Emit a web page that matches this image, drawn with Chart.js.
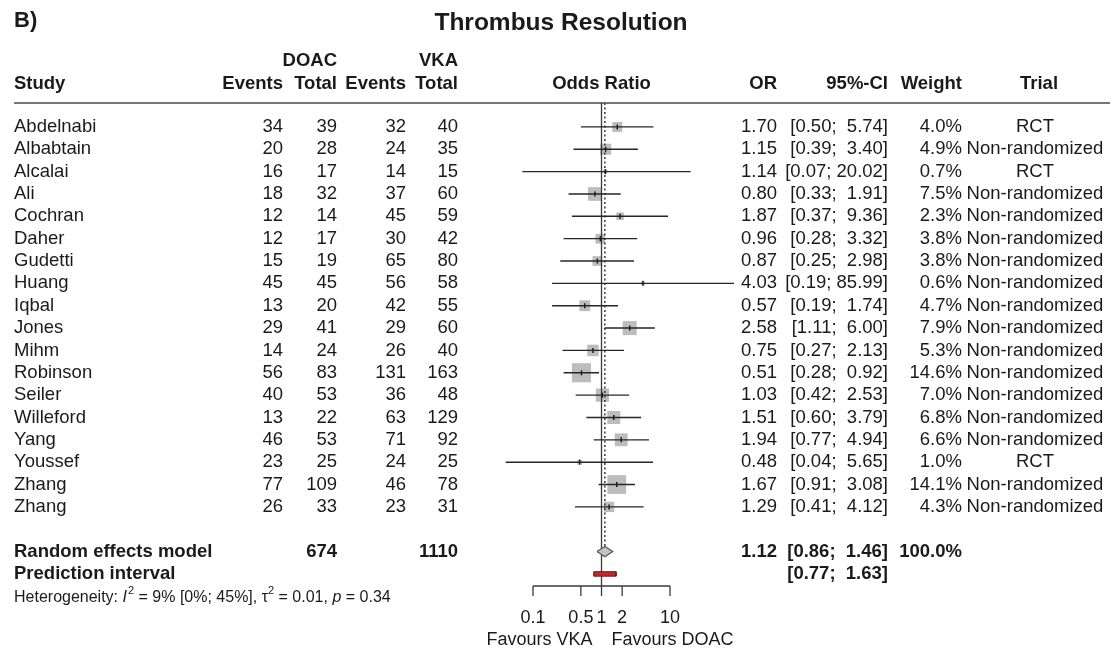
<!DOCTYPE html>
<html>
<head>
<meta charset="utf-8">
<script src="https://cdn.jsdelivr.net/npm/chart.js@4.4.1/dist/chart.umd.min.js"></script>
<style>
html,body{margin:0;padding:0;background:#fff;}
canvas{display:block;}
</style>
</head>
<body>
<canvas id="c" width="1115" height="653"></canvas>
<script>
// ---------- data ----------
const studies = ["Abdelnabi","Albabtain","Alcalai","Ali","Cochran","Daher","Gudetti","Huang","Iqbal","Jones","Mihm","Robinson","Seiler","Willeford","Yang","Youssef","Zhang","Zhang"];
const doacEvents = [34,20,16,18,12,12,15,45,13,29,14,56,40,13,46,23,77,26];
const doacTotal  = [39,28,17,32,14,17,19,45,20,41,24,83,53,22,53,25,109,33];
const vkaEvents  = [32,24,14,37,45,30,65,56,42,29,26,131,36,63,71,24,46,23];
const vkaTotal   = [40,35,15,60,59,42,80,58,55,60,40,163,48,129,92,25,78,31];
const orValues   = [1.70,1.15,1.14,0.80,1.87,0.96,0.87,4.03,0.57,2.58,0.75,0.51,1.03,1.51,1.94,0.48,1.67,1.29];
const ciLower    = [0.50,0.39,0.07,0.33,0.37,0.28,0.25,0.19,0.19,1.11,0.27,0.28,0.42,0.60,0.77,0.04,0.91,0.41];
const ciUpper    = [5.74,3.40,20.02,1.91,9.36,3.32,2.98,85.99,1.74,6.00,2.13,0.92,2.53,3.79,4.94,5.65,3.08,4.12];
const weights    = [4.0,4.9,0.7,7.5,2.3,3.8,3.8,0.6,4.7,7.9,5.3,14.6,7.0,6.8,6.6,1.0,14.1,4.3];
const trials     = ["RCT","Non-randomized","RCT","Non-randomized","Non-randomized","Non-randomized","Non-randomized","Non-randomized","Non-randomized","Non-randomized","Non-randomized","Non-randomized","Non-randomized","Non-randomized","Non-randomized","RCT","Non-randomized","Non-randomized"];
const pooled     = {or:1.12, lo:0.86, hi:1.46, weight:"100.0%", doacN:674, vkaN:1110};
const predInt    = {lo:0.77, hi:1.63};
const tickValues = [0.1,0.5,1,2,10];
const tickLabels = ["0.1","0.5","1","2","10"];

// ---------- layout ----------
const FONT = "'Liberation Sans', Arial, Helvetica, sans-serif";
const ROW_POOL = 19, ROW_PI = 20, ROW_HET = 21.05;
const Y_TOP = -1.07, Y_AXIS = 20.54;

const datasets = [];
// CI lines
studies.forEach((s,i)=>{
  datasets.push({data:[{x:ciLower[i],y:i},{x:ciUpper[i],y:i}],showLine:true,borderColor:'#262626',borderWidth:1.4,pointRadius:0,clip:false,order:0});
});
// centre marks
datasets.push({data:orValues.map((v,i)=>({x:v,y:i})),pointStyle:'line',rotation:90,pointRadius:2.5,borderColor:'#111',borderWidth:1.4,backgroundColor:'#111',clip:false,order:0});
// squares
datasets.push({data:orValues.map((v,i)=>({x:v,y:i})),pointStyle:'rect',pointRadius:weights.map(w=>5*Math.sqrt(w)/Math.SQRT2),backgroundColor:'#bdbdbd',borderColor:'#bdbdbd',borderWidth:0,clip:false,order:3});
// reference line at 1
datasets.push({data:[{x:1,y:Y_TOP},{x:1,y:Y_AXIS}],showLine:true,borderColor:'#3a3a3a',borderWidth:1.3,pointRadius:0,clip:false,order:1});
// pooled estimate dotted line
datasets.push({data:[{x:pooled.or,y:Y_TOP},{x:pooled.or,y:ROW_POOL-0.22}],showLine:true,borderColor:'#2b2b2b',borderWidth:1.4,borderDash:[2,2.5],pointRadius:0,clip:false,order:1});
// diamond
datasets.push({data:[{x:pooled.lo,y:ROW_POOL},{x:pooled.or,y:ROW_POOL-0.23},{x:pooled.hi,y:ROW_POOL},{x:pooled.or,y:ROW_POOL+0.23},{x:pooled.lo,y:ROW_POOL}],showLine:true,fill:'shape',backgroundColor:'#c4c4c4',borderColor:'#555',borderWidth:1.2,pointRadius:0,clip:false,order:0});
// prediction interval bar
datasets.push({data:[{x:predInt.lo,y:ROW_PI-0.1},{x:predInt.hi,y:ROW_PI-0.1},{x:predInt.hi,y:ROW_PI+0.1},{x:predInt.lo,y:ROW_PI+0.1},{x:predInt.lo,y:ROW_PI-0.1}],showLine:true,fill:'shape',backgroundColor:'#c8262c',borderColor:'#5a2020',borderWidth:1,pointRadius:0,clip:false,order:0});

function txt(ctx,s,x,y,align,opt){
  opt=opt||{};
  const size=opt.size||18.5;
  ctx.font=(opt.italic?'italic ':'')+(opt.bold?'bold ':'')+size+'px '+FONT;
  ctx.fillStyle=opt.color||'#1a1a1a';
  ctx.textAlign=align||'left';
  ctx.textBaseline='middle';
  ctx.fillText(s,x,y);
  return ctx.measureText(s).width;
}

const tablePlugin = {
  id:'table',
  afterDraw(chart){
    const ctx=chart.ctx, xs=chart.scales.x, ys=chart.scales.y;
    ctx.save();
    // title
    txt(ctx,'B)',14,21,'left',{bold:true,size:22});
    txt(ctx,'Thrombus Resolution',561,23,'center',{bold:true,size:24.5});
    // headers
    const hy1=61, hy2=84;
    txt(ctx,'DOAC',337,hy1,'right',{bold:true});
    txt(ctx,'VKA',458,hy1,'right',{bold:true});
    txt(ctx,'Study',14,hy2,'left',{bold:true});
    txt(ctx,'Events',283,hy2,'right',{bold:true});
    txt(ctx,'Total',337,hy2,'right',{bold:true});
    txt(ctx,'Events',406,hy2,'right',{bold:true});
    txt(ctx,'Total',458,hy2,'right',{bold:true});
    txt(ctx,'Odds Ratio',xs.getPixelForValue(1),hy2,'center',{bold:true});
    txt(ctx,'OR',777,hy2,'right',{bold:true});
    txt(ctx,'95%-CI',888,hy2,'right',{bold:true});
    txt(ctx,'Weight',962,hy2,'right',{bold:true});
    txt(ctx,'Trial',1039,hy2,'center',{bold:true});
    // header rule
    const ly=ys.getPixelForValue(Y_TOP);
    ctx.strokeStyle='#4a4a4a';ctx.lineWidth=1.7;
    ctx.beginPath();ctx.moveTo(14,ly);ctx.lineTo(1110,ly);ctx.stroke();
    // rows
    const fmt=v=>v.toFixed(2);
    studies.forEach((s,i)=>{
      const y=ys.getPixelForValue(i);
      txt(ctx,s,14,y,'left');
      txt(ctx,String(doacEvents[i]),283,y,'right');
      txt(ctx,String(doacTotal[i]),337,y,'right');
      txt(ctx,String(vkaEvents[i]),406,y,'right');
      txt(ctx,String(vkaTotal[i]),458,y,'right');
      txt(ctx,fmt(orValues[i]),777,y,'right');
      const up=fmt(ciUpper[i]);
      txt(ctx,'['+fmt(ciLower[i])+';'+(up.length<5?'  ':' ')+up+']',888,y,'right');
      txt(ctx,weights[i].toFixed(1)+'%',962,y,'right');
      txt(ctx,trials[i],1035,y,'center');
    });
    // pooled
    const py=ys.getPixelForValue(ROW_POOL);
    txt(ctx,'Random effects model',14,py,'left',{bold:true});
    txt(ctx,String(pooled.doacN),337,py,'right',{bold:true});
    txt(ctx,String(pooled.vkaN),458,py,'right',{bold:true});
    txt(ctx,fmt(pooled.or),777,py,'right',{bold:true});
    txt(ctx,'['+fmt(pooled.lo)+';  '+fmt(pooled.hi)+']',888,py,'right',{bold:true});
    txt(ctx,pooled.weight,962,py,'right',{bold:true});
    const piy=ys.getPixelForValue(ROW_PI);
    txt(ctx,'Prediction interval',14,piy,'left',{bold:true});
    txt(ctx,'['+fmt(predInt.lo)+';  '+fmt(predInt.hi)+']',888,piy,'right',{bold:true});
    // heterogeneity
    const hy=ys.getPixelForValue(ROW_HET);
    let x=14; const fs=16;
    x+=txt(ctx,'Heterogeneity: ',x,hy,'left',{size:fs});
    x+=txt(ctx,'I',x,hy,'left',{size:fs,italic:true});
    x+=txt(ctx,'2',x+1,hy-6,'left',{size:11})+1;
    x+=txt(ctx,' = 9% [0%; 45%], ',x,hy,'left',{size:fs});
    x+=txt(ctx,'\u03C4',x,hy,'left',{size:fs});
    x+=txt(ctx,'2',x,hy-6,'left',{size:11});
    x+=txt(ctx,' = 0.01, ',x,hy,'left',{size:fs});
    x+=txt(ctx,'p',x,hy,'left',{size:fs,italic:true});
    txt(ctx,' = 0.34',x,hy,'left',{size:fs});
    // x axis
    const ay=ys.getPixelForValue(Y_AXIS);
    const x0=xs.getPixelForValue(tickValues[0]), x1=xs.getPixelForValue(tickValues[tickValues.length-1]);
    ctx.strokeStyle='#3a3a3a';ctx.lineWidth=1.3;
    ctx.beginPath();ctx.moveTo(x0,ay);ctx.lineTo(x1,ay);
    tickValues.forEach(v=>{const tx=xs.getPixelForValue(v);ctx.moveTo(tx,ay);ctx.lineTo(tx,ay+10);});
    ctx.stroke();
    tickValues.forEach((v,i)=>txt(ctx,tickLabels[i],xs.getPixelForValue(v),ay+32,'center',{size:18}));
    const rx=xs.getPixelForValue(1);
    txt(ctx,'Favours VKA',rx-9,ay+54,'right',{size:18});
    txt(ctx,'Favours DOAC',rx+10,ay+54,'left',{size:18});
    ctx.restore();
  }
};

new Chart(document.getElementById('c'),{
  type:'scatter',
  data:{datasets},
  options:{
    responsive:false,animation:false,devicePixelRatio:1,
    layout:{padding:{left:533,right:445,top:103,bottom:67}},
    plugins:{legend:{display:false},tooltip:{enabled:false}},
    scales:{
      x:{type:'logarithmic',min:0.1,max:10,display:false},
      y:{type:'linear',min:Y_TOP,max:Y_AXIS,reverse:true,display:false}
    }
  },
  plugins:[tablePlugin]
});
</script>
</body>
</html>
